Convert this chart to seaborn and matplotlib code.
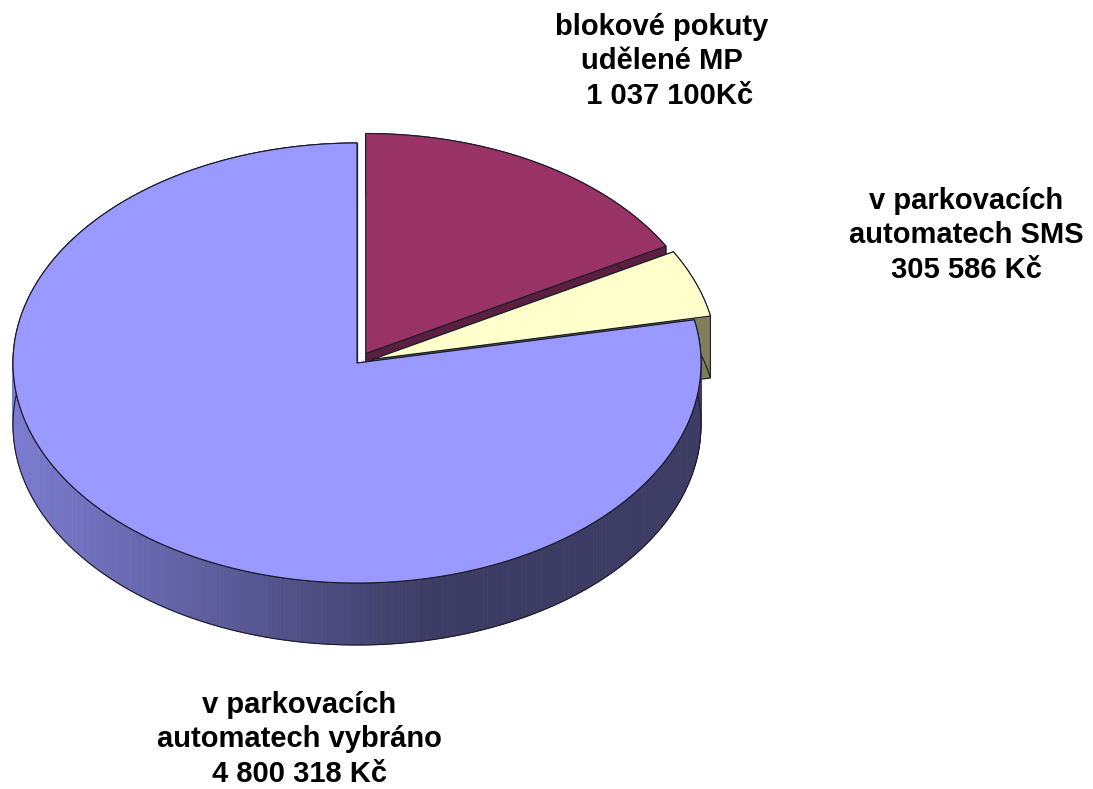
import numpy as np
import matplotlib
matplotlib.use("Agg")
import matplotlib.pyplot as plt
import seaborn as sns
from matplotlib.patches import Polygon
from matplotlib.colors import to_rgb

# data
labels = [
    "blokové pokuty\nudělené MP\n  1 037 100Kč",
    "v parkovacích\nautomatech SMS\n305 586 Kč",
    "v parkovacích\nautomatech vybráno\n4 800 318 Kč",
]
values = [1037100, 305586, 4800318]
colors = ["#993366", "#FFFFCC", "#9999FF"]
wall_colors = ["#5c1f3f", "#7f7f5c", "#3c3c64"]
explode = [0.05, 0.05, 0.0]

sns.set_theme(style="white")
plt.rcParams["font.family"] = ["Liberation Sans", "DejaVu Sans"]

fig = plt.figure(figsize=(10.93, 7.89), dpi=100)
ax = fig.add_axes([0, 0, 1, 1])
ax.set_xlim(0, 1093)
ax.set_ylim(789, 0)
ax.axis("off")

# geometry of the tilted pie (pixel units)
cx, cy, rx, ry, depth = 357, 363, 344, 220, 62
edge = "#1a1a2a"
lw = 0.8

fracs = np.array(values) / sum(values)
starts = 90 - 360 * np.concatenate([[0], np.cumsum(fracs)[:-1]])
ends = starts - 360 * fracs


def pt(t, ox, oy, dz=0.0):
    r = np.radians(t)
    return cx + ox + rx * np.cos(r), cy + oy - ry * np.sin(r) + dz


def gradient_color(x):
    # light on the left, dark towards the right
    light = np.array(to_rgb("#7b7bd0"))
    dark = np.array(to_rgb("#3c3c64"))
    f = np.clip((x - 15) / (430 - 15), 0, 1)
    return tuple(light + (dark - light) * f)


for i, (s, e) in enumerate(zip(starts, ends)):
    mid = np.radians((s + e) / 2)
    ox = explode[i] * rx * np.cos(mid)
    oy = -explode[i] * ry * np.sin(mid)
    ts = np.linspace(s, e, 400)
    top = [pt(t, ox, oy) for t in ts]
    bottom = [pt(t, ox, oy, depth) for t in ts]
    c0 = (cx + ox, cy + oy)
    c1 = (cx + ox, cy + oy + depth)

    # radial walls
    for t in (s, e):
        p0 = pt(t, ox, oy)
        p1 = pt(t, ox, oy, depth)
        ax.add_patch(Polygon([c0, p0, p1, c1], closed=True,
                             facecolor=wall_colors[i], edgecolor=edge, lw=lw))

    # outer wall
    if i == 2:
        for k in range(len(ts) - 1):
            quad = [top[k], top[k + 1], bottom[k + 1], bottom[k]]
            xm = (top[k][0] + top[k + 1][0]) / 2
            col = gradient_color(xm)
            ax.add_patch(Polygon(quad, closed=True, facecolor=col,
                                 edgecolor=col, lw=0.6))
        ax.add_patch(Polygon(top + bottom[::-1], closed=True,
                             facecolor="none", edgecolor=edge, lw=lw))
    else:
        ax.add_patch(Polygon(top + bottom[::-1], closed=True,
                             facecolor=wall_colors[i], edgecolor=edge, lw=lw))

    # top face
    ax.add_patch(Polygon([c0] + top, closed=True,
                         facecolor=colors[i], edgecolor=edge, lw=lw))

# labels (y = baseline of the last line)
label_pos = [(662, 104), (966, 278), (299, 782)]
for (x, y), txt in zip(label_pos, labels):
    ax.text(x, y, txt, ha="center", va="baseline", fontsize=21,
            fontweight="bold", color="black", linespacing=1.3)

plt.savefig("out.png", dpi=100)
